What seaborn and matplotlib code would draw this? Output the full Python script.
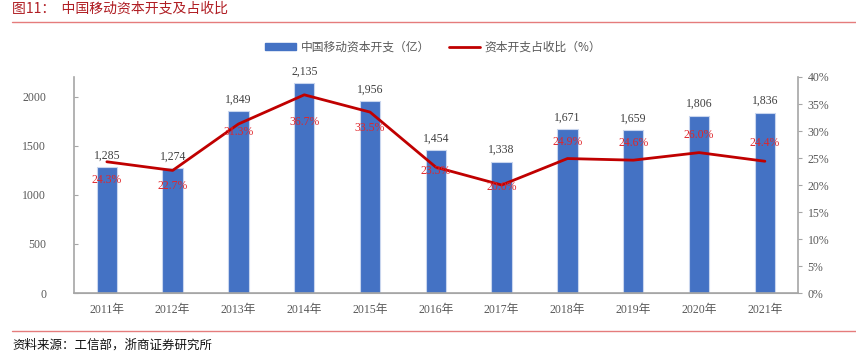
import numpy as np
import pandas as pd
import matplotlib
matplotlib.use("Agg")
import matplotlib.pyplot as plt
from matplotlib.lines import Line2D
from matplotlib.patches import Patch
import seaborn as sns

years = ["2011年", "2012年", "2013年", "2014年", "2015年", "2016年",
         "2017年", "2018年", "2019年", "2020年", "2021年"]
capex = [1285, 1274, 1849, 2135, 1956, 1454, 1338, 1671, 1659, 1806, 1836]
ratio = [24.3, 22.7, 31.3, 36.7, 33.5, 23.3, 20.0, 24.9, 24.6, 26.0, 24.4]

# where each % label sits relative to its point (pixels, Excel placed them by hand)
pct_offsets = [-18, -16, -8, -27, -16, -4, -2, 17, 17, 18, 18]

sns.set_style("white")
serif = ["Liberation Serif", "Noto Sans CJK SC"]
cjk = ["Noto Sans CJK SC", "DejaVu Sans"]
plt.rcParams["font.family"] = serif

df = pd.DataFrame({"year": years, "capex": capex, "ratio": np.array(ratio) / 100})

bar_color = "#4472C4"
line_color = "#C00000"
grey = "#595959"
axis_grey = "#A6A6A6"

fig = plt.figure(figsize=(8.56, 3.55), dpi=100)
ax = fig.add_axes([0.0864, 0.1746, 0.8456, 0.6085])

sns.barplot(data=df, x="year", y="capex", color=bar_color, width=0.31,
            edgecolor="#C9D6EE", linewidth=0.8, saturation=1, ax=ax)
ax.bar_label(ax.containers[0], labels=[f"{v:,}" for v in capex], padding=4,
             fontsize=8.5, color="#404040")
ax.set_ylim(0, 2200)
ax.set_yticks([0, 500, 1000, 1500, 2000])
ax.set_xlim(-0.5, len(years) - 0.5)
ax.set_xlabel("")
ax.set_ylabel("")

ax2 = ax.twinx()
sns.lineplot(data=df, x="year", y="ratio", color=line_color, linewidth=2,
             ax=ax2, sort=False)
ax2.set_ylim(0, 0.4)
ax2.set_yticks(np.arange(0, 0.41, 0.05))
ax2.set_yticklabels([f"{int(round(t * 100))}%" for t in np.arange(0, 0.41, 0.05)])
ax2.set_ylabel("")
for i, (v, off) in enumerate(zip(ratio, pct_offsets)):
    ax2.annotate(f"{v:.1f}%", (i, v / 100), xytext=(0, off),
                 textcoords="offset pixels", ha="center", va="center",
                 fontsize=8.5, color="#E0262B")

for a in (ax, ax2):
    a.spines["top"].set_visible(False)
    a.spines["left"].set_color(axis_grey)
    a.spines["right"].set_color(axis_grey)
    a.spines["bottom"].set_color(axis_grey)
    a.tick_params(colors=grey, labelsize=8.5, length=3, width=0.8)
    a.tick_params(axis="both", color=axis_grey)
ax.spines["right"].set_visible(False)
ax2.spines["left"].set_visible(False)
ax.spines["left"].set_linewidth(1.2)
ax2.spines["right"].set_linewidth(1.2)
ax.spines["bottom"].set_linewidth(1.2)
ax.tick_params(axis="y", direction="in", pad=20)
ax.tick_params(axis="x", length=0, pad=8)
ax2.tick_params(axis="y", direction="out", pad=4)

# tick marks between categories on the x axis
ax.set_xticks(np.arange(-0.5, len(years), 1), minor=True)
ax.tick_params(axis="x", which="minor", length=4, direction="out",
               color=axis_grey, width=0.8)

handles = [Patch(facecolor=bar_color, edgecolor=bar_color),
           Line2D([], [], color=line_color, linewidth=2)]
fig.legend(handles, ["中国移动资本开支（亿）", "资本开支占收比（%）"],
           loc="center", bbox_to_anchor=(0.506, 0.868), ncol=2, frameon=False,
           prop={"family": cjk, "size": 8.5}, labelcolor=grey,
           handlelength=2.6, handleheight=0.5, columnspacing=1.6, handletextpad=0.4)

fig.text(0.014, 1 - 9 / 355, "图11：  中国移动资本开支及占收比", ha="left",
         va="center", fontsize=10, color="#B01E24", family=cjk)
fig.add_artist(Line2D([0.014, 1], [1 - 22 / 355] * 2, color="#E57C7C",
                      linewidth=1, transform=fig.transFigure))
fig.add_artist(Line2D([0.014, 1], [1 - 330.5 / 355] * 2, color="#E57C7C",
                      linewidth=1, transform=fig.transFigure))
fig.text(0.014, 1 - 345 / 355, "资料来源：工信部，浙商证券研究所", ha="left",
         va="center", fontsize=9, color="#111111", family=cjk)

fig.savefig("out.png", dpi=100)
